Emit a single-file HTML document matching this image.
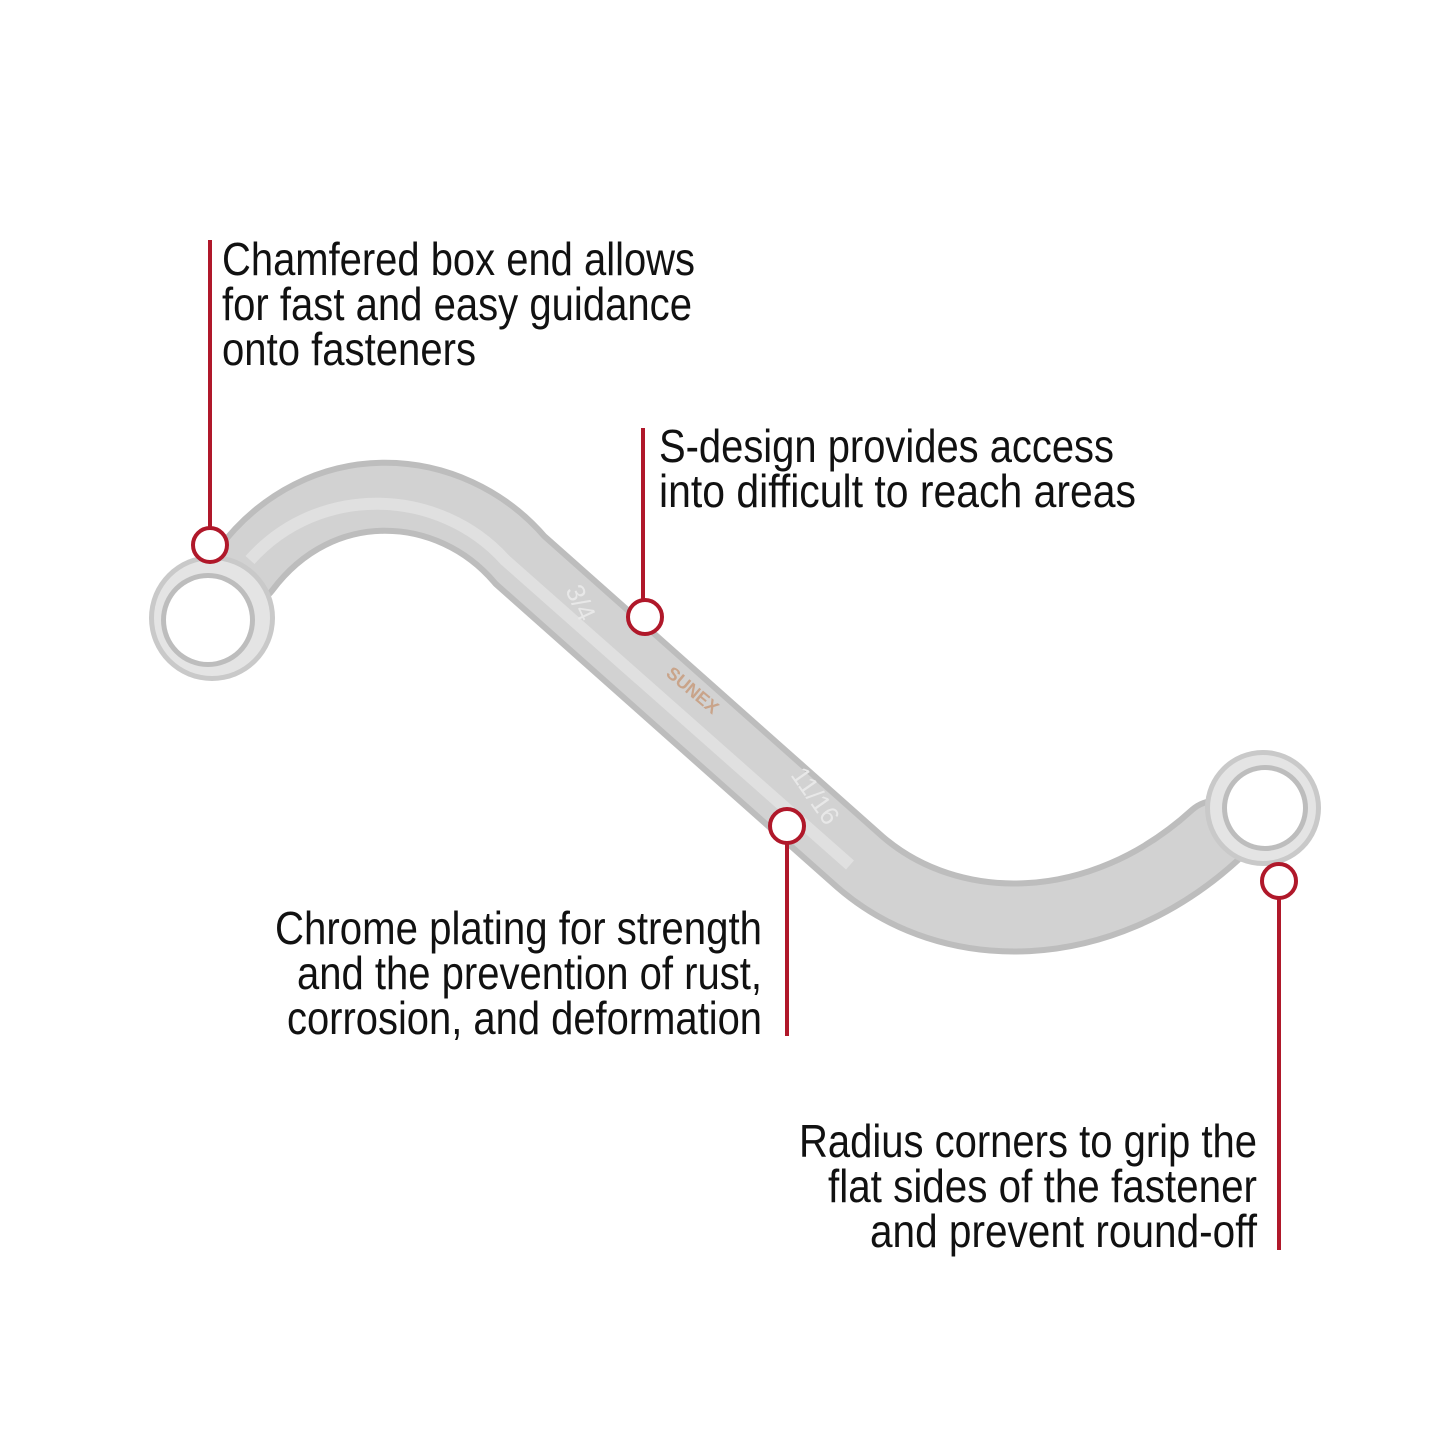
<!DOCTYPE html>
<html><head><style>
body{margin:0;background:#fff;}
svg text{font-family:"Liberation Sans Narrow","Liberation Sans",sans-serif;font-size:46px;fill:#111;}
</style></head><body>
<svg width="1445" height="1445" viewBox="0 0 1445 1445" xmlns="http://www.w3.org/2000/svg">
<!-- handle -->
<path d="M245,570 C320,470 450,478 520,560 L860,862 C950,940 1100,940 1215,835" fill="none" stroke="#bdbdbd" stroke-width="74" stroke-linecap="round"/>
<path d="M245,570 C320,470 450,478 520,560 L860,862 C950,940 1100,940 1215,835" fill="none" stroke="#d2d2d2" stroke-width="62" stroke-linecap="round"/>
<path d="M250,560 C320,482 440,488 505,560 L850,865" fill="none" stroke="#e0e0e0" stroke-width="12"/>
<!-- left ring -->
<circle cx="212" cy="618" r="63" fill="#c9c9c9"/>
<circle cx="212" cy="618" r="58" fill="#e4e4e4"/>
<circle cx="208" cy="620" r="47" fill="#bdbdbd"/>
<circle cx="208" cy="620" r="42" fill="#fff"/>
<!-- right ring -->
<circle cx="1263" cy="808" r="58" fill="#c9c9c9"/>
<circle cx="1263" cy="808" r="53" fill="#e4e4e4"/>
<circle cx="1265" cy="808" r="43" fill="#bdbdbd"/>
<circle cx="1265" cy="808" r="38" fill="#fff"/>
<text x="0" y="0" transform="translate(565,590) rotate(65)" style="font-size:26px;fill:#e8e8e8">3/4</text>
<text x="0" y="0" transform="translate(665,675) rotate(40)" style="font-size:18px;font-weight:bold;fill:#c9a48a">SUNEX</text>
<text x="0" y="0" transform="translate(790,775) rotate(55)" style="font-size:26px;fill:#e8e8e8">11/16</text>
<!-- callouts -->
<g stroke="#b0182a" stroke-width="4" fill="#fff">
<line x1="210" y1="240" x2="210" y2="528"/>
<circle cx="210" cy="545" r="17"/>
<line x1="643" y1="428" x2="643" y2="600"/>
<circle cx="645" cy="617" r="17"/>
<line x1="787" y1="843" x2="787" y2="1036"/>
<circle cx="787" cy="826" r="17"/>
<line x1="1279" y1="898" x2="1279" y2="1250"/>
<circle cx="1279" cy="881" r="17"/>
</g>
<g lengthAdjust="spacingAndGlyphs">
<text x="222" y="275" textLength="473" lengthAdjust="spacingAndGlyphs">Chamfered box end allows</text>
<text x="222" y="320" textLength="470" lengthAdjust="spacingAndGlyphs">for fast and easy guidance</text>
<text x="222" y="365" textLength="254" lengthAdjust="spacingAndGlyphs">onto fasteners</text>
<text x="659" y="462" textLength="455" lengthAdjust="spacingAndGlyphs">S-design provides access</text>
<text x="659" y="507" textLength="477" lengthAdjust="spacingAndGlyphs">into difficult to reach areas</text>
<text x="275" y="944" textLength="487" lengthAdjust="spacingAndGlyphs">Chrome plating for strength</text>
<text x="297" y="989" textLength="465" lengthAdjust="spacingAndGlyphs">and the prevention of rust,</text>
<text x="287" y="1034" textLength="475" lengthAdjust="spacingAndGlyphs">corrosion, and deformation</text>
<text x="799" y="1157" textLength="458" lengthAdjust="spacingAndGlyphs">Radius corners to grip the</text>
<text x="828" y="1202" textLength="429" lengthAdjust="spacingAndGlyphs">flat sides of the fastener</text>
<text x="870" y="1247" textLength="387" lengthAdjust="spacingAndGlyphs">and prevent round-off</text>
</g>
</svg>
</body></html>
